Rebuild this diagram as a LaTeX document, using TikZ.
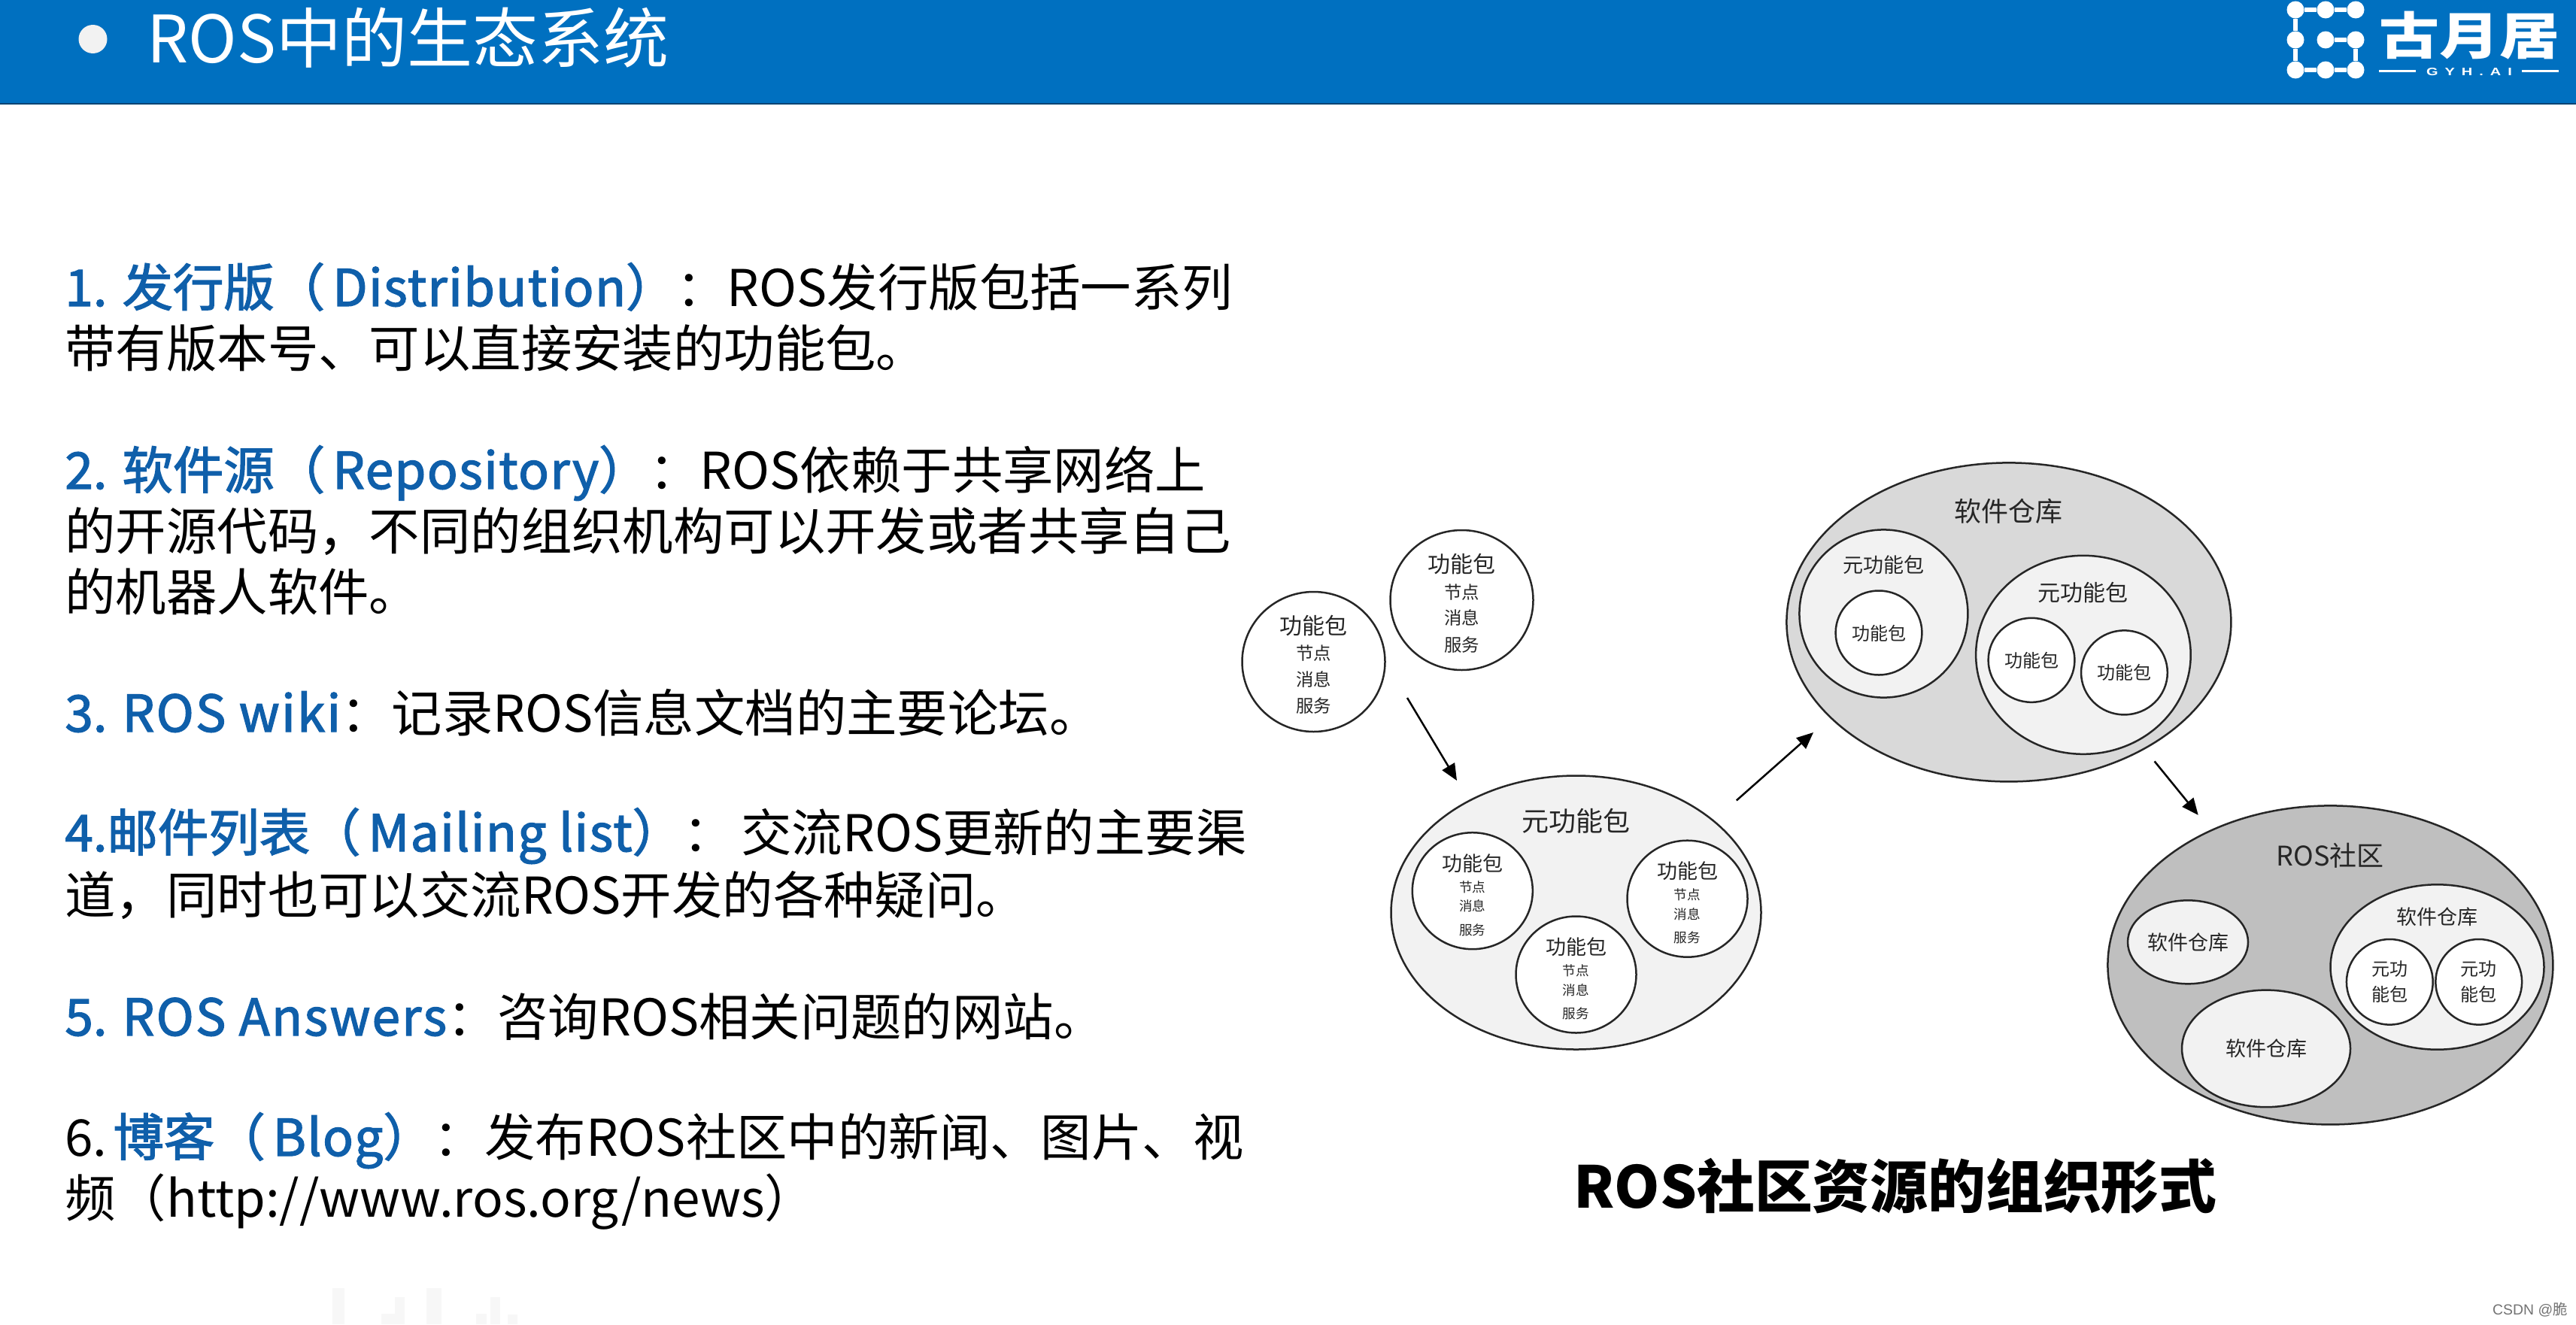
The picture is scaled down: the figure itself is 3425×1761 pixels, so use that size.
\documentclass[tikz,border=0pt]{standalone}
\usepackage{fontspec}
\usepackage{xcolor}
\setmainfont{Noto Sans CJK SC}
\newfontfamily\libfont{Liberation Sans}
\newfontfamily\logofont[LetterSpace=45]{Liberation Sans Bold}
\newfontfamily\hcjk[FakeBold=2]{Noto Sans CJK SC}
\newfontfamily\hlat[FakeBold=2,LetterSpace=2.2]{Noto Sans CJK SC}
\newfontfamily\hwide[FakeBold=2,LetterSpace=3.5]{Noto Sans CJK SC}
\usetikzlibrary{shapes.geometric,arrows.meta}
\definecolor{hbar}{HTML}{0070C0}
\definecolor{hblue}{HTML}{0F5FAA}
\definecolor{linec}{HTML}{262626}
\definecolor{txtc}{HTML}{262626}
\definecolor{metaf}{HTML}{F2F2F2}
\definecolor{repof}{HTML}{D9D9D9}
\definecolor{commf}{HTML}{BFBFBF}
\newcommand{\fs}[1]{\fontsize{#1pt}{#1pt}\selectfont}
\newcommand{\hb}[1]{{\hcjk\color{hblue}#1}}
\newcommand{\hl}[1]{{\hlat\color{hblue}\hspace{5pt}#1}}
\newcommand{\hw}[1]{{\hwide\color{hblue}#1}}
\tikzset{
  blob/.style={ellipse,draw=linec,line width=1.25pt,inner sep=0pt},
  lab/.style={inner sep=0pt,text=txtc,anchor=center},
  lab36/.style={lab,font=\fs{18}},
  lab30/.style={lab,font=\fs{15}},
  lab27/.style={lab,font=\fs{13.5}},
  lab24/.style={lab,font=\fs{12}},
  lab23/.style={lab,font=\fs{11.7}},
  lab17/.style={lab,font=\fs{8.8}},
  para/.style={inner sep=0pt,anchor=base west,font=\fs{33.7},text=black},
  flow/.style={draw=black,line width=1.25pt,-{Triangle[length=11pt,width=9.5pt]}},
  logodot/.style={circle,fill=white,inner sep=0pt,minimum size=11.5pt},
  logolink/.style={draw=white,line width=3.2pt},
}
\begin{document}
\begin{tikzpicture}[x=0.5pt,y=-0.5pt]
\useasboundingbox (0,0) rectangle (3425,1761);
\fill[white] (0,0) rectangle (3425,1761);
% faint watermark at the foot
\fill[black!3] (442,1713) rectangle (458,1761);
\fill[black!3] (525,1725) rectangle (538,1761);
\fill[black!3] (507,1747) rectangle (533,1761);
\fill[black!3] (567,1713) rectangle (587,1761);
\fill[black!3] (633,1747) rectangle (647,1761);
\fill[black!3] (652,1725) rectangle (665,1761);
\fill[black!3] (675,1748) rectangle (688,1761);
% header
\fill[hbar] (0,0) rectangle (3425,138);
\fill[black!40!hbar] (0,137) rectangle (3425,139);
\node[circle,fill=metaf,inner sep=0pt,minimum size=19pt] (bullet) at (123.5,52) {};
\node[inner sep=0pt,anchor=base west,text=white,font=\fs{43.5}] (title) at (195,83) {ROS中的生态系统};
% logo
\node[logodot] (d1) at (3052,13) {};
\node[logodot] (d2) at (3092,13) {};
\node[logodot] (d3) at (3132,13) {};
\node[logodot] (d4) at (3052,53) {};
\node[logodot] (d5) at (3092,53) {};
\node[logodot] (d6) at (3132,53) {};
\node[logodot] (d7) at (3052,93) {};
\node[logodot] (d8) at (3092,93) {};
\node[logodot] (d9) at (3132,93) {};
\draw[logolink] (d1)--(d2) (d2)--(d3) (d1)--(d4) (d4)--(d7) (d7)--(d8) (d8)--(d9) (d5)--(d6) (d6)--(d9);
\node[inner sep=0pt,anchor=base,text=white,font=\fs{40}\bfseries,yscale=0.84] (logotext) at (3283,72) {古月居};
\node[inner sep=0pt,anchor=base,text=white,font=\fs{10}\logofont,yscale=0.72] (logosub) at (3283,100) {GYH.AI};
\fill[white] (3163,93) rectangle (3212,95.5);
\fill[white] (3353,93) rectangle (3402,95.5);
% left text
\node[para] (p1a) at (86,407) {\hb{1. 发行版（}\hl{Distribution}\hb{）}：ROS发行版包括一系列};
\node[para] (p1b) at (86,488) {带有版本号、可以直接安装的功能包。};
\node[para] (p2a) at (86,650) {\hb{2. 软件源（}\hl{Repository}\hb{）}：ROS依赖于共享网络上};
\node[para] (p2b) at (86,731) {的开源代码，不同的组织机构可以开发或者共享自己};
\node[para] (p2c) at (86,812) {的机器人软件。};
\node[para] (p3a) at (86,973) {\hb{3. }\hw{ROS wiki}：记录ROS信息文档的主要论坛。};
\node[para] (p4a) at (86,1132) {\hb{4.邮件列表（}\hl{Mailing list}\hb{）}：\hspace{5pt}交流ROS更新的主要渠};
\node[para] (p4b) at (86,1215) {道，同时也可以交流ROS开发的各种疑问。};
\node[para] (p5a) at (86,1377) {\hb{5. }\hw{ROS Answers}：咨询ROS相关问题的网站。};
\node[para] (p6a) at (86,1537) {6.\hspace{4pt}\hb{博客（}\hl{Blog}\hb{）}：发布ROS社区中的新闻、图片、视};
\node[para] (p6b) at (86,1618) {频（http://www.ros.org/news）};
% packages
\node[blob,fill=white,minimum width=95pt,minimum height=93pt] (pa) at (1746.5,880) {};
\node[lab30] (pat) at (1746.5,832) {功能包};
\node[lab23] (pa1) at (1746.5,869) {节点};
\node[lab23] (pa2) at (1746.5,903) {消息};
\node[lab23] (pa3) at (1746.5,939) {服务};
\node[blob,fill=white,minimum width=95pt,minimum height=93pt] (pb) at (1943.5,798) {};
\node[lab30] (pbt) at (1943.5,750) {功能包};
\node[lab23] (pb1) at (1943.5,788) {节点};
\node[lab23] (pb2) at (1943.5,821) {消息};
\node[lab23] (pb3) at (1943.5,858) {服务};
% meta package
\node[blob,fill=metaf,minimum width=246pt,minimum height=182pt] (meta) at (2095.5,1213.5) {};
\node[lab36] (metat) at (2095.5,1092) {元功能包};
\node[blob,fill=white,minimum width=80pt,minimum height=77.5pt] (m1) at (1957.8,1184.7) {};
\node[lab27] at (1957.8,1148) (m1t) {功能包};
\node[lab17] at (1957.8,1179.5) (m1a) {节点};
\node[lab17] at (1957.8,1205) (m1b) {消息};
\node[lab17] at (1957.8,1236.5) (m1c) {服务};
\node[blob,fill=white,minimum width=80pt,minimum height=77.5pt] (m2) at (2243.5,1195.2) {};
\node[lab27] at (2243.5,1158.6) (m2t) {功能包};
\node[lab17] at (2243.5,1190) (m2a) {节点};
\node[lab17] at (2243.5,1215.6) (m2b) {消息};
\node[lab17] at (2243.5,1247) (m2c) {服务};
\node[blob,fill=white,minimum width=80pt,minimum height=77.5pt] (m3) at (2095.5,1296) {};
\node[lab27] at (2095.5,1259.4) (m3t) {功能包};
\node[lab17] at (2095.5,1290.8) (m3a) {节点};
\node[lab17] at (2095.5,1316.4) (m3b) {消息};
\node[lab17] at (2095.5,1347.8) (m3c) {服务};
% repository
\node[blob,fill=repof,minimum width=295.5pt,minimum height=212pt] (repo) at (2670.9,827.4) {};
\node[lab36] (repot) at (2670.9,679.5) {软件仓库};
\node[blob,fill=metaf,minimum width=112pt,minimum height=111.6pt] (r1) at (2504.4,816) {};
\node[lab27] (r1t) at (2504.4,751) {元功能包};
\node[blob,fill=white,minimum width=57.4pt,minimum height=56pt] (r1p) at (2498,841.5) {};
\node[lab24] (r1pt) at (2498,842) {功能包};
\node[blob,fill=metaf,minimum width=142.8pt,minimum height=132pt] (r2) at (2769.9,870.8) {};
\node[lab30] (r2t) at (2769.9,788.5) {元功能包};
\node[blob,fill=white,minimum width=57.4pt,minimum height=56pt] (r2p) at (2701,877.8) {};
\node[lab24] (r2pt) at (2701,878) {功能包};
\node[blob,fill=white,minimum width=57.4pt,minimum height=56pt] (r2q) at (2824.4,894.4) {};
\node[lab24] (r2qt) at (2824.4,894.5) {功能包};
% community
\node[blob,fill=commf,minimum width=296pt,minimum height=212pt] (comm) at (3098.4,1283.4) {};
\node[lab36] (commt) at (3098,1138) {ROS社区};
\node[blob,fill=metaf,minimum width=80pt,minimum height=55.5pt] (c1) at (2909,1252.8) {};
\node[lab27] (c1t) at (2909,1252.8) {软件仓库};
\node[blob,fill=metaf,minimum width=112pt,minimum height=77.8pt] (c2) at (3013,1394.4) {};
\node[lab27] (c2t) at (3013,1394.4) {软件仓库};
\node[blob,fill=metaf,minimum width=142pt,minimum height=109.7pt] (c3) at (3240.5,1286) {};
\node[lab27] (c3t) at (3240,1219.7) {软件仓库};
\node[blob,fill=white,minimum width=57.4pt,minimum height=56.8pt] (c3a) at (3177.3,1305.8) {};
\node[lab24] (c3a1) at (3177.3,1289) {元功};
\node[lab24] (c3a2) at (3177.3,1322) {能包};
\node[blob,fill=white,minimum width=57.4pt,minimum height=56.8pt] (c3b) at (3295.7,1305.8) {};
\node[lab24] (c3b1) at (3295.7,1289) {元功};
\node[lab24] (c3b2) at (3295.7,1322) {能包};
% arrows
\coordinate (a1s) at (1871,928);
\coordinate (a1e) at (1937,1038);
\coordinate (a2s) at (2308.8,1064.4);
\coordinate (a2e) at (2411,974);
\coordinate (a3s) at (2864.6,1012.4);
\coordinate (a3e) at (2922.7,1083.8);
\draw[flow] (a1s) -- (a1e);
\draw[flow] (a2s) -- (a2e);
\draw[flow] (a3s) -- (a3e);
% caption and credit
\node[inner sep=0pt,anchor=center,text=black,font=\fs{38.4}\bfseries] (cap) at (2520,1577) {ROS社区资源的组织形式};
\node[inner sep=0pt,anchor=base east,text=black!55,font=\fs{9.7}] (credit) at (3414,1748) {{\libfont CSDN @}脆};
\end{tikzpicture}
\end{document}
